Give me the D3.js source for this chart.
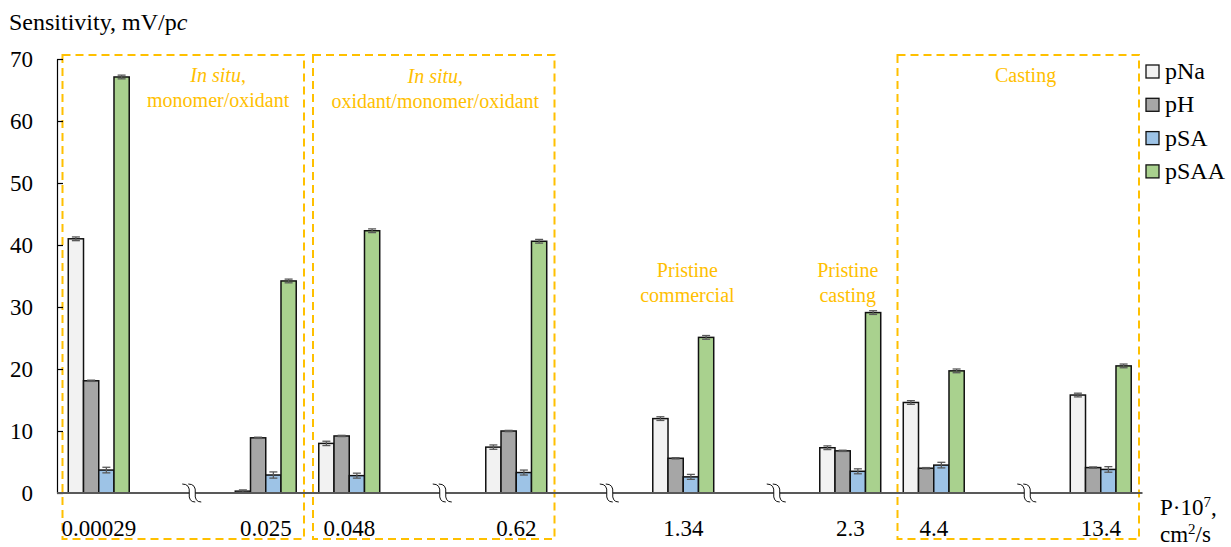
<!DOCTYPE html>
<html>
<head>
<meta charset="utf-8">
<script src="https://cdn.jsdelivr.net/npm/d3@7/dist/d3.min.js"></script>
<style>
  html, body { margin: 0; padding: 0; background: #fff; }
  svg { display: block; }
  text { font-family: "Liberation Serif", "Times New Roman", serif; fill: #000; }
</style>
</head>
<body>
<svg id="chart" width="1231" height="547"></svg>
<script>
// Membrane permeability P·10^7 (cm²/s) for each membrane
const permeability = ["0.00029", "0.025", "0.048", "0.62", "1.34", "2.3", "4.4", "13.4"];
// Slots along the x axis; "gap" slots carry the axis-break marks
const axisSlots = ["0.00029", "gap1", "0.025", "0.048", "gap2", "0.62", "gap3", "1.34", "gap4", "2.3", "4.4", "gap5", "13.4"];
const seriesNames = ["pNa", "pH", "pSA", "pSAA"];
const seriesColors = ["#f2f2f2", "#a6a6a6", "#9dc3e6", "#a9d18e"];

// Sensitivity, mV/pc
const pNa  = [41.0, 0.3, 8.0, 7.4, 12.0, 7.3, 14.6, 15.8];
const pH   = [18.1, 8.9, 9.2, 10.0, 5.6, 6.8, 4.0, 4.1];
const pSA  = [3.7, 2.9, 2.8, 3.3, 2.6, 3.5, 4.5, 3.8];
const pSAA = [67.1, 34.2, 42.3, 40.6, 25.1, 29.1, 19.7, 20.5];

// Standard deviations
const pNaErr  = [0.3, 0.2, 0.35, 0.35, 0.3, 0.3, 0.3, 0.3];
const pHErr   = [0.1, 0.1, 0.1, 0.1, 0.1, 0.1, 0.1, 0.1];
const pSAErr  = [0.45, 0.5, 0.4, 0.4, 0.4, 0.4, 0.45, 0.45];
const pSAAErr = [0.3, 0.3, 0.3, 0.3, 0.3, 0.3, 0.3, 0.3];

const yTicks = [0, 10, 20, 30, 40, 50, 60, 70];

const values = [pNa, pH, pSA, pSAA];
const errors = [pNaErr, pHErr, pSAErr, pSAAErr];

const svg = d3.select("#chart");
const orange = "#ffc000";

const x0 = d3.scaleBand().domain(axisSlots).range([57, 1142.5])
  .paddingInner(0.27).paddingOuter(0.135);
const x1 = d3.scaleBand().domain(seriesNames).range([0, x0.bandwidth()]);
const y = d3.scaleLinear().domain([0, 70]).range([493, 59]);

// position along the axis in units of slots (0 = left edge)
const slotX = k => x0.range()[0] + k * x0.step();

// dashed frames grouping membranes of the same preparation
const frames = [
  { from: "0.00029", to: "0.025" },
  { from: "0.048", to: "0.62" },
  { from: "4.4", to: "13.4" }
];
svg.append("g").selectAll("rect").data(frames).join("rect")
  .attr("x", d => x0(d.from) - x0.step() * x0.paddingOuter() + 5.5)
  .attr("y", 55)
  .attr("width", d => (x0(d.to) + x0.bandwidth() + x0.step() * x0.paddingOuter()) - (x0(d.from) - x0.step() * x0.paddingOuter()) - 9)
  .attr("height", 484)
  .attr("fill", "none")
  .attr("stroke", orange)
  .attr("stroke-width", 2)
  .attr("stroke-dasharray", "8,5");

// y axis with inward ticks
const yAxis = svg.append("g")
  .attr("transform", "translate(57,0)")
  .call(d3.axisLeft(y).tickValues(yTicks).tickSize(-6).tickSizeOuter(0).tickPadding(24));
yAxis.select(".domain").attr("stroke", "#000").attr("stroke-width", 1.2);
yAxis.selectAll(".tick line").attr("stroke", "#000").attr("stroke-width", 1.2);
yAxis.selectAll(".tick text")
  .style("font-family", "'Liberation Serif', serif")
  .style("font-size", "23px")
  .attr("fill", "#000");

// bars
const groups = svg.append("g").selectAll("g").data(permeability).join("g")
  .attr("transform", d => `translate(${x0(d)},0)`);

groups.selectAll("rect")
  .data((d, i) => seriesNames.map((s, j) => ({ s, j, v: values[j][i], e: errors[j][i] })))
  .join("rect")
  .attr("x", d => x1(d.s))
  .attr("y", d => y(d.v))
  .attr("width", x1.bandwidth())
  .attr("height", d => y(0) - y(d.v))
  .attr("fill", d => seriesColors[d.j])
  .attr("stroke", "#111")
  .attr("stroke-width", 1.5);

// error bars
const errG = groups.selectAll("g.err")
  .data((d, i) => seriesNames.map((s, j) => ({ s, j, v: values[j][i], e: errors[j][i] })))
  .join("g").attr("class", "err")
  .attr("stroke", "#595959").attr("stroke-width", 1.3);
errG.append("line")
  .attr("x1", d => x1(d.s) + x1.bandwidth() / 2)
  .attr("x2", d => x1(d.s) + x1.bandwidth() / 2)
  .attr("y1", d => y(d.v + d.e)).attr("y2", d => y(d.v - d.e));
errG.append("line")
  .attr("x1", d => x1(d.s) + x1.bandwidth() / 2 - 4)
  .attr("x2", d => x1(d.s) + x1.bandwidth() / 2 + 4)
  .attr("y1", d => y(d.v + d.e)).attr("y2", d => y(d.v + d.e));
errG.append("line")
  .attr("x1", d => x1(d.s) + x1.bandwidth() / 2 - 4)
  .attr("x2", d => x1(d.s) + x1.bandwidth() / 2 + 4)
  .attr("y1", d => y(d.v - d.e)).attr("y2", d => y(d.v - d.e));

// x baseline
svg.append("line")
  .attr("x1", x0.range()[0]).attr("x2", x0.range()[1])
  .attr("y1", y(0)).attr("y2", y(0))
  .attr("stroke", "#595959").attr("stroke-width", 2);

// axis-break marks in the gap slots
const gaps = axisSlots.filter(s => s.startsWith("gap"));
const breaks = svg.append("g").selectAll("g").data(gaps).join("g")
  .attr("transform", d => `translate(${x0(d) + x0.bandwidth() / 2 + 8},${y(0)})`);
breaks.append("path")
  .attr("d", "M-8,-9 Q0,-9 -1,0 T5,9 L11,9 Q5,9 5,0 T-2,-9 Z")
  .attr("fill", "#fff").attr("stroke", "none");
breaks.append("path")
  .attr("d", "M-8,-9 Q0,-9 -1,0 T5,9")
  .attr("fill", "none").attr("stroke", "#111").attr("stroke-width", 1);
breaks.append("path")
  .attr("d", "M-2,-9 Q6,-9 5,0 T11,9")
  .attr("fill", "none").attr("stroke", "#111").attr("stroke-width", 1);

// category labels
svg.append("g").selectAll("text").data(permeability).join("text")
  .attr("x", d => x0(d) + x0.bandwidth() / 2)
  .attr("y", 536)
  .attr("text-anchor", "middle")
  .style("font-size", "23px")
  .text(d => d);

// axis titles
svg.append("text").attr("x", 9).attr("y", 30).style("font-size", "24px")
  .call(t => {
    t.append("tspan").text("Sensitivity, mV/p");
    t.append("tspan").style("font-style", "italic").text("c");
  });

const pTitle = svg.append("text").attr("x", 1160).attr("y", 515).style("font-size", "23px");
pTitle.append("tspan").text("P·10");
pTitle.append("tspan").attr("dy", -8).style("font-size", "15px").text("7");
pTitle.append("tspan").attr("dy", 8).text(",");
const uTitle = svg.append("text").attr("x", 1160).attr("y", 542).style("font-size", "23px");
uTitle.append("tspan").text("cm");
uTitle.append("tspan").attr("dy", -8).style("font-size", "15px").text("2");
uTitle.append("tspan").attr("dy", 8).text("/s");

// legend
const legend = svg.append("g").selectAll("g").data(seriesNames).join("g")
  .attr("transform", (d, i) => `translate(1146,${71.5 + i * 33.3})`);
legend.append("rect")
  .attr("x", 0).attr("y", -6.5).attr("width", 13).attr("height", 13)
  .attr("fill", (d, i) => seriesColors[i])
  .attr("stroke", "#111").attr("stroke-width", 1.3);
legend.append("text")
  .attr("x", 19).attr("y", 7.5)
  .style("font-size", "24px")
  .text(d => d);

// group annotations
const notes = [
  { k: 1.93, lines: [["In situ", true, ","], ["monomer/oxidant"]], y0: 82 },
  { k: 4.53, lines: [["In situ", true, ","], ["oxidant/monomer/oxidant"]], y0: 83 },
  { k: 7.55, lines: [["Pristine"], ["commercial"]], y0: 277 },
  { k: 9.47, lines: [["Pristine"], ["casting"]], y0: 277 },
  { k: 11.6, lines: [["Casting"]], y0: 82 }
];
notes.forEach(n => {
  n.lines.forEach((ln, li) => {
    const t = svg.append("text")
      .attr("x", slotX(n.k))
      .attr("y", n.y0 + li * 25)
      .attr("text-anchor", "middle")
      .style("font-size", "20px")
      .style("fill", orange);
    t.append("tspan").style("font-style", ln[1] ? "italic" : "normal").text(ln[0]);
    if (ln[2]) t.append("tspan").text(ln[2]);
  });
});
</script>
</body>
</html>
